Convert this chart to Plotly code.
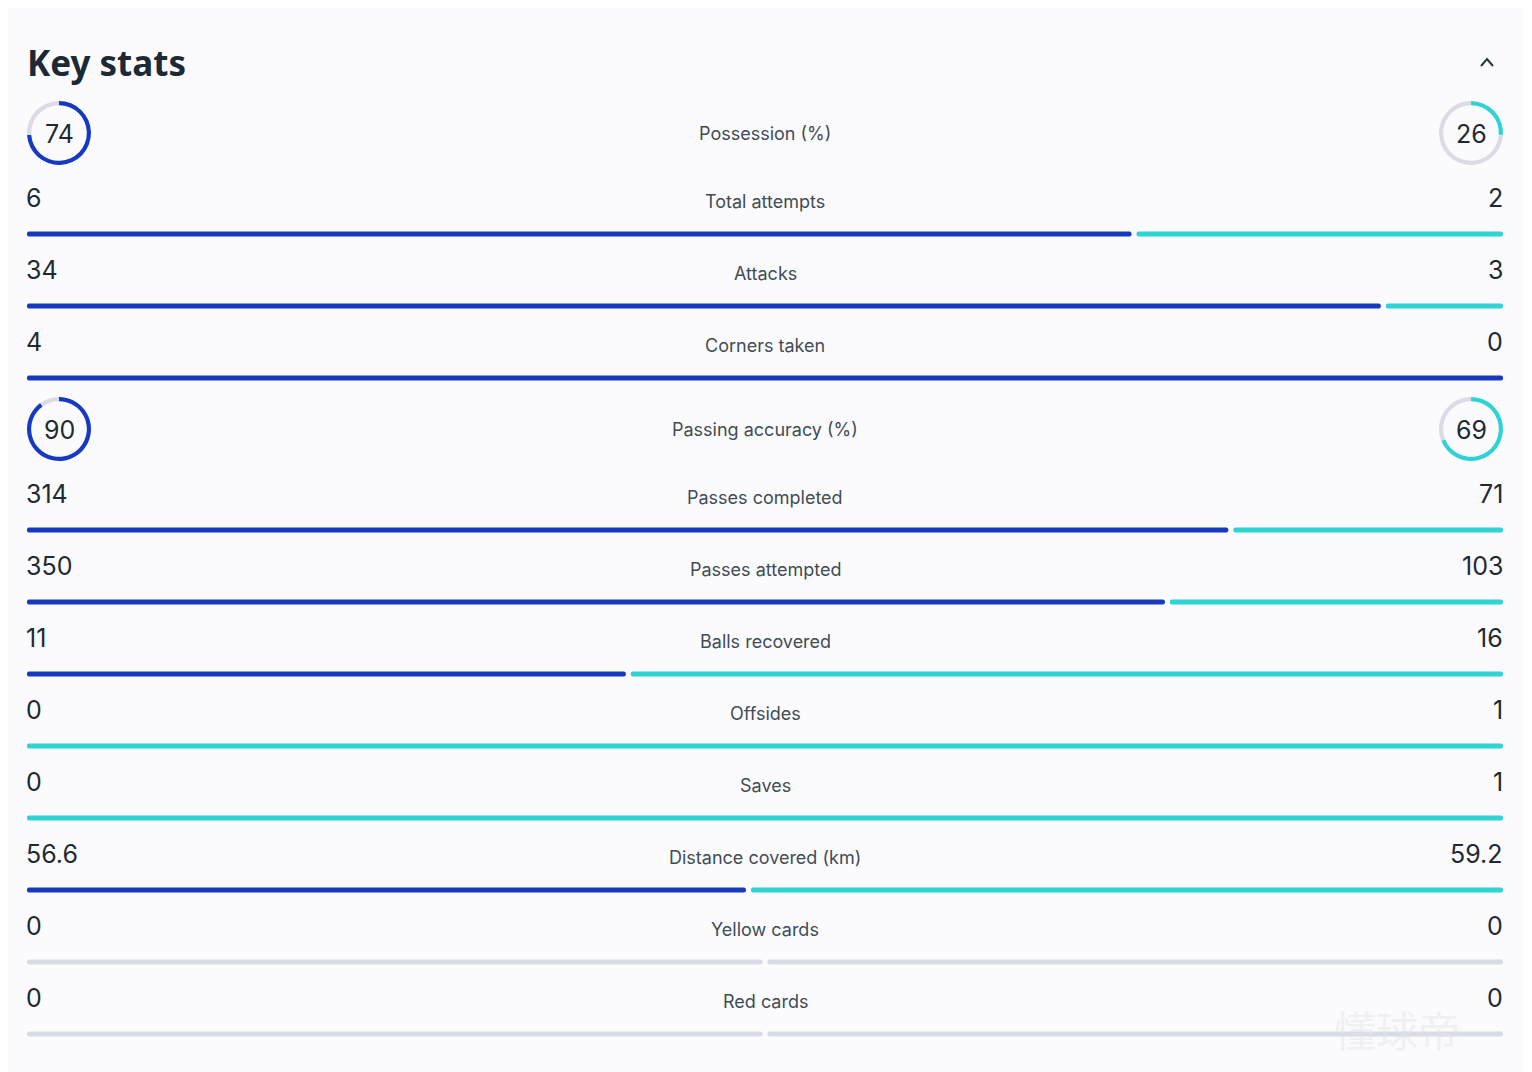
import plotly.graph_objects as go

W, H = 1532, 1072
OFF = 8  # page margin of the browser body

# stats rows (label, home value, away value, kind)
labels = ["Possession (%)", "Total attempts", "Attacks", "Corners taken",
          "Passing accuracy (%)", "Passes completed", "Passes attempted",
          "Balls recovered", "Offsides", "Saves", "Distance covered (km)",
          "Yellow cards", "Red cards"]
home = [74, 6, 34, 4, 90, 314, 350, 11, 0, 0, 56.6, 0, 0]
away = [26, 2, 3, 0, 69, 71, 103, 16, 1, 1, 59.2, 0, 0]
kinds = ["ring", "bar", "bar", "bar", "ring", "bar", "bar", "bar",
         "bar", "bar", "bar", "bar", "bar"]

BLUE = "#1639c4"
CYAN = "#2fd3d6"
GREY = "#d9dce4"
TXT = "#1e2a32"
LBL = "#414c54"
BG = "#fbfbfd"

X0, X1 = 27, 1503          # bar track, pixels
GAP = 5 / (X1 - X0)        # gap between the two bars, in share units

fig = go.Figure()

# vertical layout of the rows (label y in pixels)
label_y = []
y = 133
for i, k in enumerate(kinds):
    if i > 0:
        prev = kinds[i - 1]
        y += 84 if (k == "ring" and prev == "bar") else (68 if prev == "ring" else 72)
    label_y.append(y)

annotations = []
shapes = []
for lab, h, a, k, ly in zip(labels, home, away, kinds, label_y):
    annotations.append(dict(x=(X0 + X1) / 2, y=ly, text=lab, showarrow=False,
                            xref="x", yref="y", xanchor="center", yanchor="middle",
                            font=dict(family="Inter", size=18, color=LBL)))
    if k == "ring":
        r = 32
        for cx, v, col in [(X0 + r, h, BLUE), (X1 - r, a, CYAN)]:
            fig.add_trace(go.Pie(
                values=[v, 100 - v], marker=dict(colors=[col, GREY], line=dict(width=0)),
                hole=0.87, sort=False, direction="clockwise", rotation=0,
                textinfo="none", hoverinfo="skip", showlegend=False,
                domain=dict(x=[(cx - r - OFF) / W, (cx + r - OFF) / W],
                            y=[1 - (ly + r - OFF) / H, 1 - (ly - r - OFF) / H])))
            annotations.append(dict(x=cx, y=ly + 1, text=str(v), showarrow=False,
                                    xref="x", yref="y", xanchor="center", yanchor="middle",
                                    font=dict(family="Inter", size=25, color=TXT)))
    else:
        by = ly + 33
        annotations.append(dict(x=X0 - 3, y=ly - 3, text=str(h), showarrow=False,
                                xref="x", yref="y", xanchor="left", yanchor="middle",
                                font=dict(family="Inter", size=25, color=TXT)))
        annotations.append(dict(x=X1 + 2, y=ly - 3, text=str(a), showarrow=False,
                                xref="x", yref="y", xanchor="right", yanchor="middle",
                                font=dict(family="Inter", size=25, color=TXT)))
        tot = h + a
        span = X1 - X0
        if tot == 0:
            segs = [(0, 0.5 - GAP / 2, GREY), (0.5 + GAP / 2, 1, GREY)]
        elif a == 0:
            segs = [(0, 1, BLUE)]
        elif h == 0:
            segs = [(0, 1, CYAN)]
        else:
            s = h / tot
            segs = [(0, s - GAP / 2, BLUE), (s + GAP / 2, 1, CYAN)]
        for s0, s1, col in segs:
            fig.add_trace(go.Bar(
                y=[by], x=[(s1 - s0) * span], base=[X0 + s0 * span],
                orientation="h", width=5, marker=dict(color=col, cornerradius=3,
                                                      line=dict(width=0)),
                hoverinfo="skip", showlegend=False))

# title
annotations.append(dict(x=25, y=62, text="<b>Key stats</b>", showarrow=False,
                        xref="x", yref="y", xanchor="left", yanchor="middle",
                        font=dict(family="Noto Sans", size=35, color="#1b2a35")))
# watermark (faint)
annotations.append(dict(x=1462, y=1028, text="懂球帝", showarrow=False,
                        xref="x", yref="y", xanchor="right", yanchor="middle",
                        font=dict(family="Noto Sans CJK SC", size=42,
                                  color="rgba(225,228,234,0.45)")))

# collapse chevron
shapes.append(dict(type="path", path="M 1481 66 L 1487 59 L 1493 66",
                   xref="x", yref="y", line=dict(color="#2a363e", width=2)))

fig.update_layout(
    width=W, height=H,
    margin=dict(l=0, r=0, t=0, b=0),
    paper_bgcolor=BG, plot_bgcolor=BG,
    barmode="overlay",
    xaxis=dict(range=[OFF, W + OFF], visible=False, fixedrange=True),
    yaxis=dict(range=[H + OFF, OFF], visible=False, fixedrange=True),
    annotations=annotations, shapes=shapes,
)

fig.write_html("out.html")
